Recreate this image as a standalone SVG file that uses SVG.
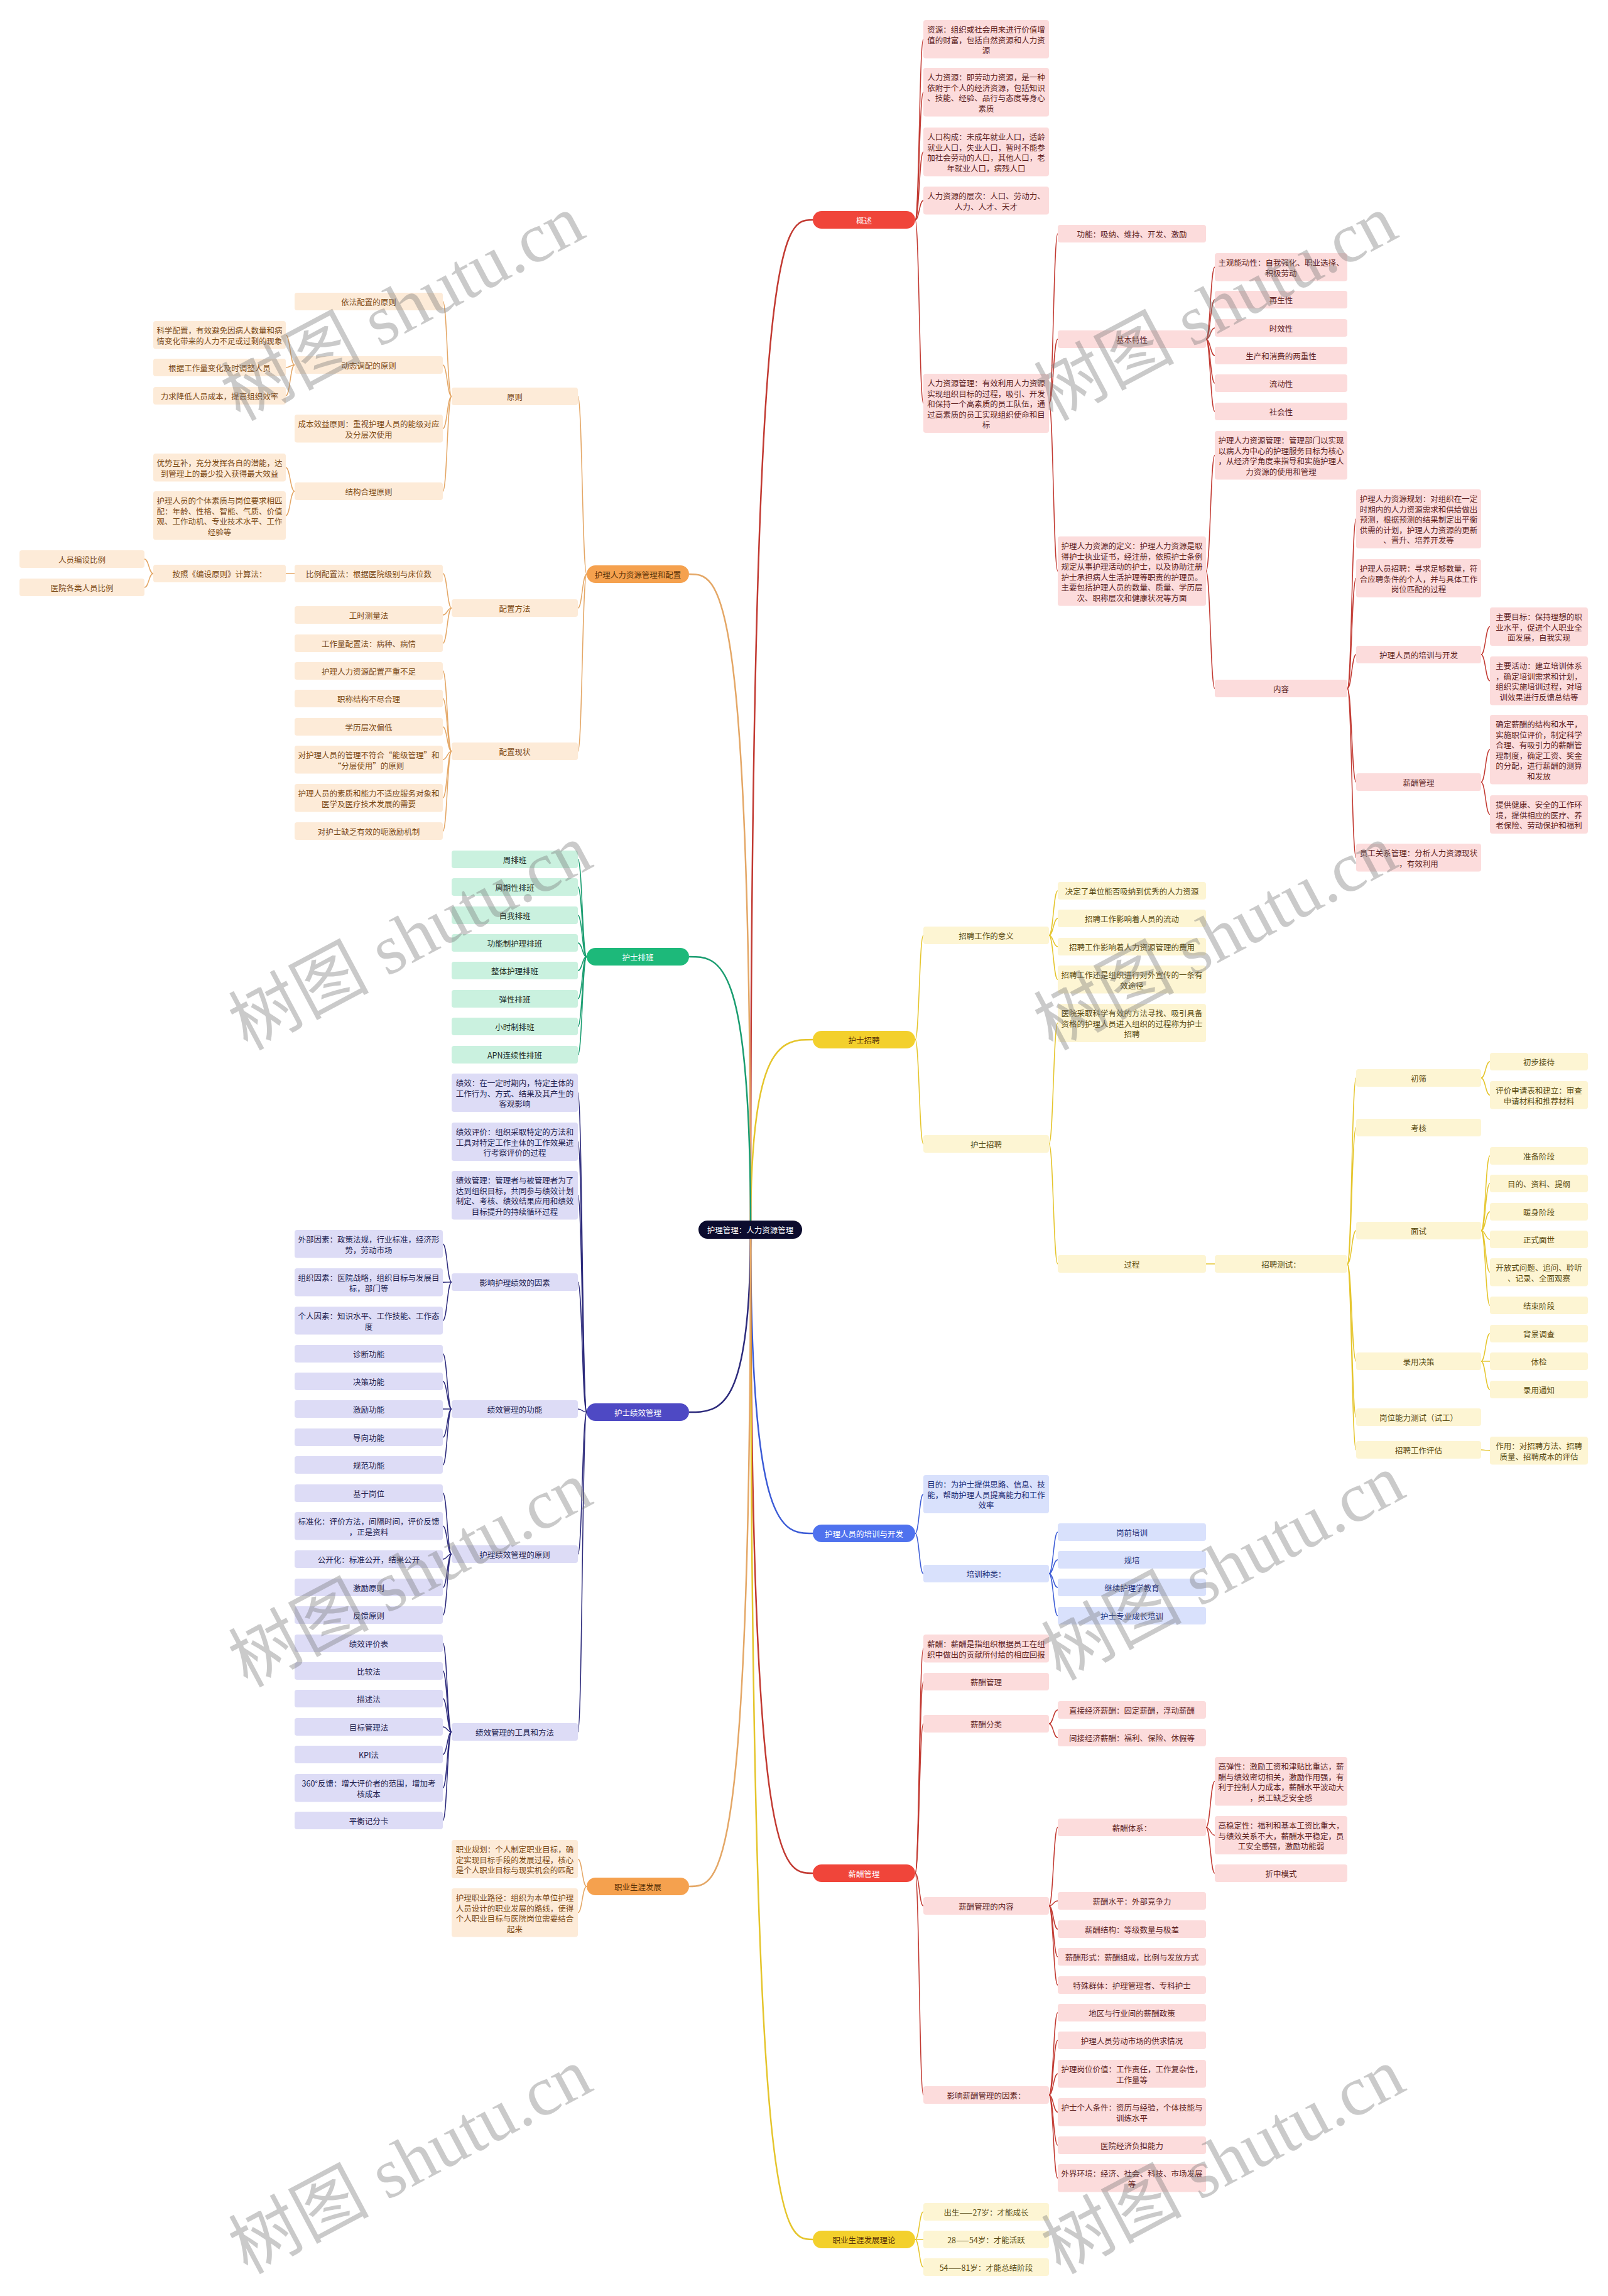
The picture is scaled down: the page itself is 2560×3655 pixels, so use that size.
<svg xmlns="http://www.w3.org/2000/svg" width="2560" height="3655" viewBox="0 0 2560 3655">
<style>
text{font-family:"Noto Sans CJK SC","Noto Sans",sans-serif;font-size:12.5px;text-anchor:middle;dominant-baseline:central}
.red rect{fill:#fcdcdc}.red text{fill:#5e1f1f}
.org rect{fill:#fdebd8}.org text{fill:#7b4a17}
.grn rect{fill:#caf1df}.grn text{fill:#1c2b24}
.pur rect{fill:#dddcf6}.pur text{fill:#232350}
.yel rect{fill:#fdf5d3}.yel text{fill:#5a4b12}
.blu rect{fill:#d9e1fc}.blu text{fill:#1d2d75}
.pill text{fill:#fff}
.pill.dk text{fill:#5a3208}
#edges path{fill:none;stroke-width:1.5}
#edges .root{stroke-width:2.5}
.e-red{stroke:#c23a32}.e-org{stroke:#e4a766}.e-grn{stroke:#1a9d70}.e-pur{stroke:#2d2b7c}.e-yel{stroke:#e5c52c}.e-blu{stroke:#3b5bd6}
.wm text{font-family:"Liberation Serif","Noto Sans CJK SC",serif;font-size:112px;fill:#777;opacity:0.38}
</style>
<rect width="2560" height="3655" fill="#ffffff"/>
<g id="edges">
<path class="root e-red" d="M1195 1957 C1195 350 1245 350 1294 350"/>
<path class="root e-yel" d="M1195 1957 C1195 1655 1245 1655 1294 1655"/>
<path class="root e-blu" d="M1195 1957 C1195 2441 1245 2441 1294 2441"/>
<path class="root e-red" d="M1195 1957 C1195 2982 1245 2982 1294 2982"/>
<path class="root e-yel" d="M1195 1957 C1195 3565 1245 3565 1294 3565"/>
<path class="root e-org" d="M1195 1957 C1195 914 1146 914 1097 914"/>
<path class="root e-grn" d="M1195 1957 C1195 1523 1146 1523 1097 1523"/>
<path class="root e-pur" d="M1195 1957 C1195 2248 1146 2248 1097 2248"/>
<path class="root e-org" d="M1195 1957 C1195 3003 1146 3003 1097 3003"/>
<g class="e-red">
<path d="M1457 350 C1463.5 350 1463.5 62.5 1470 62.5"/>
<path d="M1457 350 C1463.5 350 1463.5 146.75 1470 146.75"/>
<path d="M1457 350 C1463.5 350 1463.5 241.75 1470 241.75"/>
<path d="M1457 350 C1463.5 350 1463.5 319.25 1470 319.25"/>
<path d="M1457 350 C1463.5 350 1463.5 642 1470 642"/>
<path d="M1670 642 C1677 642 1677 372 1684 372"/>
<path d="M1670 642 C1677 642 1677 540 1684 540"/>
<path d="M1670 642 C1677 642 1677 909.25 1684 909.25"/>
<path d="M1920 540 C1927 540 1927 425.25 1934 425.25"/>
<path d="M1920 540 C1927 540 1927 477 1934 477"/>
<path d="M1920 540 C1927 540 1927 522 1934 522"/>
<path d="M1920 540 C1927 540 1927 566 1934 566"/>
<path d="M1920 540 C1927 540 1927 610 1934 610"/>
<path d="M1920 540 C1927 540 1927 655 1934 655"/>
<path d="M1920 909.25 C1927 909.25 1927 724.75 1934 724.75"/>
<path d="M1920 909.25 C1927 909.25 1927 1096 1934 1096"/>
<path d="M2145 1096 C2152 1096 2152 826 2159 826"/>
<path d="M2145 1096 C2152 1096 2152 920.5 2159 920.5"/>
<path d="M2145 1096 C2152 1096 2152 1042 2159 1042"/>
<path d="M2145 1096 C2152 1096 2152 1245 2159 1245"/>
<path d="M2145 1096 C2152 1096 2152 1365.25 2159 1365.25"/>
<path d="M2358 1042 C2365 1042 2365 997.5 2372 997.5"/>
<path d="M2358 1042 C2365 1042 2365 1083.75 2372 1083.75"/>
<path d="M2358 1245 C2365 1245 2365 1193.25 2372 1193.25"/>
<path d="M2358 1245 C2365 1245 2365 1296.5 2372 1296.5"/>
<path d="M1457 2982 C1463.5 2982 1463.5 2624.25 1470 2624.25"/>
<path d="M1457 2982 C1463.5 2982 1463.5 2677 1470 2677"/>
<path d="M1457 2982 C1463.5 2982 1463.5 2744 1470 2744"/>
<path d="M1457 2982 C1463.5 2982 1463.5 3034 1470 3034"/>
<path d="M1457 2982 C1463.5 2982 1463.5 3335 1470 3335"/>
<path d="M1670 2744 C1677 2744 1677 2722 1684 2722"/>
<path d="M1670 2744 C1677 2744 1677 2766 1684 2766"/>
<path d="M1670 3034 C1677 3034 1677 2909 1684 2909"/>
<path d="M1670 3034 C1677 3034 1677 3026 1684 3026"/>
<path d="M1670 3034 C1677 3034 1677 3071 1684 3071"/>
<path d="M1670 3034 C1677 3034 1677 3115 1684 3115"/>
<path d="M1670 3034 C1677 3034 1677 3160 1684 3160"/>
<path d="M1920 2909 C1927 2909 1927 2835.75 1934 2835.75"/>
<path d="M1920 2909 C1927 2909 1927 2921.5 1934 2921.5"/>
<path d="M1920 2909 C1927 2909 1927 2982 1934 2982"/>
<path d="M1670 3335 C1677 3335 1677 3204 1684 3204"/>
<path d="M1670 3335 C1677 3335 1677 3248 1684 3248"/>
<path d="M1670 3335 C1677 3335 1677 3301.25 1684 3301.25"/>
<path d="M1670 3335 C1677 3335 1677 3362.25 1684 3362.25"/>
<path d="M1670 3335 C1677 3335 1677 3415 1684 3415"/>
<path d="M1670 3335 C1677 3335 1677 3467.25 1684 3467.25"/>
</g>
<g class="e-org">
<path d="M934 914 C927 914 927 631 920 631"/>
<path d="M934 914 C927 914 927 968 920 968"/>
<path d="M934 914 C927 914 927 1196 920 1196"/>
<path d="M719 631 C712 631 712 480 705 480"/>
<path d="M719 631 C712 631 712 581 705 581"/>
<path d="M719 631 C712 631 712 682.25 705 682.25"/>
<path d="M719 631 C712 631 712 782 705 782"/>
<path d="M469 581 C462 581 462 533.25 455 533.25"/>
<path d="M469 581 C462 581 462 585 455 585"/>
<path d="M469 581 C462 581 462 630 455 630"/>
<path d="M469 782 C462 782 462 744.25 455 744.25"/>
<path d="M469 782 C462 782 462 820.75 455 820.75"/>
<path d="M719 968 C712 968 712 913 705 913"/>
<path d="M719 968 C712 968 712 979 705 979"/>
<path d="M719 968 C712 968 712 1024 705 1024"/>
<path d="M469 913 L455 913"/>
<path d="M244 913 C237 913 237 890 230 890"/>
<path d="M244 913 C237 913 237 935 230 935"/>
<path d="M719 1196 C712 1196 712 1068 705 1068"/>
<path d="M719 1196 C712 1196 712 1112 705 1112"/>
<path d="M719 1196 C712 1196 712 1157 705 1157"/>
<path d="M719 1196 C712 1196 712 1209.25 705 1209.25"/>
<path d="M719 1196 C712 1196 712 1270.25 705 1270.25"/>
<path d="M719 1196 C712 1196 712 1323 705 1323"/>
<path d="M934 3003 C927 3003 927 2959.5 920 2959.5"/>
<path d="M934 3003 C927 3003 927 3044.75 920 3044.75"/>
</g>
<g class="e-grn">
<path d="M934 1523 C927 1523 927 1368 920 1368"/>
<path d="M934 1523 C927 1523 927 1412 920 1412"/>
<path d="M934 1523 C927 1523 927 1457 920 1457"/>
<path d="M934 1523 C927 1523 927 1501 920 1501"/>
<path d="M934 1523 C927 1523 927 1545 920 1545"/>
<path d="M934 1523 C927 1523 927 1590 920 1590"/>
<path d="M934 1523 C927 1523 927 1634 920 1634"/>
<path d="M934 1523 C927 1523 927 1679 920 1679"/>
</g>
<g class="e-pur">
<path d="M934 2248 C927 2248 927 1739.5 920 1739.5"/>
<path d="M934 2248 C927 2248 927 1817.5 920 1817.5"/>
<path d="M934 2248 C927 2248 927 1902.75 920 1902.75"/>
<path d="M934 2248 C927 2248 927 2041 920 2041"/>
<path d="M934 2248 C927 2248 927 2243 920 2243"/>
<path d="M934 2248 C927 2248 927 2474 920 2474"/>
<path d="M934 2248 C927 2248 927 2757 920 2757"/>
<path d="M719 2041 C712 2041 712 1980.25 705 1980.25"/>
<path d="M719 2041 C712 2041 712 2041.25 705 2041.25"/>
<path d="M719 2041 C712 2041 712 2102.25 705 2102.25"/>
<path d="M719 2243 C712 2243 712 2155 705 2155"/>
<path d="M719 2243 C712 2243 712 2199 705 2199"/>
<path d="M719 2243 C712 2243 712 2243 705 2243"/>
<path d="M719 2243 C712 2243 712 2288 705 2288"/>
<path d="M719 2243 C712 2243 712 2332 705 2332"/>
<path d="M719 2474 C712 2474 712 2377 705 2377"/>
<path d="M719 2474 C712 2474 712 2429.25 705 2429.25"/>
<path d="M719 2474 C712 2474 712 2482 705 2482"/>
<path d="M719 2474 C712 2474 712 2527 705 2527"/>
<path d="M719 2474 C712 2474 712 2571 705 2571"/>
<path d="M719 2757 C712 2757 712 2616 705 2616"/>
<path d="M719 2757 C712 2757 712 2660 705 2660"/>
<path d="M719 2757 C712 2757 712 2704 705 2704"/>
<path d="M719 2757 C712 2757 712 2749 705 2749"/>
<path d="M719 2757 C712 2757 712 2793 705 2793"/>
<path d="M719 2757 C712 2757 712 2846.25 705 2846.25"/>
<path d="M719 2757 C712 2757 712 2898 705 2898"/>
</g>
<g class="e-yel">
<path d="M1457 1655 C1463.5 1655 1463.5 1489 1470 1489"/>
<path d="M1457 1655 C1463.5 1655 1463.5 1821 1470 1821"/>
<path d="M1670 1489 C1677 1489 1677 1418 1684 1418"/>
<path d="M1670 1489 C1677 1489 1677 1462 1684 1462"/>
<path d="M1670 1489 C1677 1489 1677 1507 1684 1507"/>
<path d="M1670 1489 C1677 1489 1677 1559.25 1684 1559.25"/>
<path d="M1670 1821 C1677 1821 1677 1628.5 1684 1628.5"/>
<path d="M1670 1821 C1677 1821 1677 2012 1684 2012"/>
<path d="M1920 2012 L1934 2012"/>
<path d="M2145 2012 C2152 2012 2152 1716 2159 1716"/>
<path d="M2145 2012 C2152 2012 2152 1795 2159 1795"/>
<path d="M2145 2012 C2152 2012 2152 1959 2159 1959"/>
<path d="M2145 2012 C2152 2012 2152 2167 2159 2167"/>
<path d="M2145 2012 C2152 2012 2152 2256 2159 2256"/>
<path d="M2145 2012 C2152 2012 2152 2308 2159 2308"/>
<path d="M2358 1716 C2365 1716 2365 1690 2372 1690"/>
<path d="M2358 1716 C2365 1716 2365 1743.25 2372 1743.25"/>
<path d="M2358 1959 C2365 1959 2365 1840 2372 1840"/>
<path d="M2358 1959 C2365 1959 2365 1884 2372 1884"/>
<path d="M2358 1959 C2365 1959 2365 1929 2372 1929"/>
<path d="M2358 1959 C2365 1959 2365 1973 2372 1973"/>
<path d="M2358 1959 C2365 1959 2365 2025.25 2372 2025.25"/>
<path d="M2358 1959 C2365 1959 2365 2078 2372 2078"/>
<path d="M2358 2167 C2365 2167 2365 2123 2372 2123"/>
<path d="M2358 2167 C2365 2167 2365 2167 2372 2167"/>
<path d="M2358 2167 C2365 2167 2365 2212 2372 2212"/>
<path d="M2358 2308 C2365 2308 2365 2309.25 2372 2309.25"/>
<path d="M1457 3565 C1463.5 3565 1463.5 3521 1470 3521"/>
<path d="M1457 3565 C1463.5 3565 1463.5 3565 1470 3565"/>
<path d="M1457 3565 C1463.5 3565 1463.5 3609 1470 3609"/>
</g>
<g class="e-blu">
<path d="M1457 2441 C1463.5 2441 1463.5 2378.5 1470 2378.5"/>
<path d="M1457 2441 C1463.5 2441 1463.5 2505 1470 2505"/>
<path d="M1670 2505 C1677 2505 1677 2439 1684 2439"/>
<path d="M1670 2505 C1677 2505 1677 2483 1684 2483"/>
<path d="M1670 2505 C1677 2505 1677 2527 1684 2527"/>
<path d="M1670 2505 C1677 2505 1677 2572 1684 2572"/>
</g>
</g>

<g id="root"><rect x="1112" y="1943" width="165" height="29" rx="14.5" fill="#0c0c2e"/><text x="1194.5" y="1957.5" fill="#ffffff">护理管理：人力资源管理</text></g>

<g id="p-gaishu" class="pill"><rect x="1294" y="336" width="163" height="28" rx="14" fill="#f0453a"/><text x="1375.5" y="350">概述</text></g>
<g id="p-zhaopin" class="pill dk"><rect x="1294" y="1641" width="163" height="28" rx="14" fill="#f3d02c"/><text x="1375.5" y="1655">护士招聘</text></g>
<g id="p-peixun" class="pill"><rect x="1294" y="2427" width="163" height="28" rx="14" fill="#4f72ee"/><text x="1375.5" y="2441">护理人员的培训与开发</text></g>
<g id="p-xinchou" class="pill"><rect x="1294" y="2968" width="163" height="28" rx="14" fill="#f0453a"/><text x="1375.5" y="2982">薪酬管理</text></g>
<g id="p-lilun" class="pill dk"><rect x="1294" y="3551" width="163" height="28" rx="14" fill="#f3d02c"/><text x="1375.5" y="3565">职业生涯发展理论</text></g>
<g id="p-peizhi" class="pill dk"><rect x="934" y="900" width="163" height="28" rx="14" fill="#f5a14e"/><text x="1015.5" y="914">护理人力资源管理和配置</text></g>
<g id="p-paiban" class="pill"><rect x="934" y="1509" width="163" height="28" rx="14" fill="#1db97a"/><text x="1015.5" y="1523">护士排班</text></g>
<g id="p-jixiao" class="pill"><rect x="934" y="2234" width="163" height="28" rx="14" fill="#4e49c4"/><text x="1015.5" y="2248">护士绩效管理</text></g>
<g id="p-zhiye" class="pill dk"><rect x="934" y="2989" width="163" height="28" rx="14" fill="#f5a14e"/><text x="1015.5" y="3003">职业生涯发展</text></g>

<g id="n-r1" class="red"><rect x="1470" y="32" width="200" height="61" rx="4"/><text><tspan x="1570" y="46">资源：组织或社会用来进行价值增</tspan><tspan x="1570" y="62.5">值的财富，包括自然资源和人力资</tspan><tspan x="1570" y="79">源</tspan></text></g>
<g id="n-r2" class="red"><rect x="1470" y="108" width="200" height="77.5" rx="4"/><text><tspan x="1570" y="122">人力资源：即劳动力资源，是一种</tspan><tspan x="1570" y="138.5">依附于个人的经济资源，包括知识</tspan><tspan x="1570" y="155">、技能、经验、品行与态度等身心</tspan><tspan x="1570" y="171.5">素质</tspan></text></g>
<g id="n-r3" class="red"><rect x="1470" y="203" width="200" height="77.5" rx="4"/><text><tspan x="1570" y="217">人口构成：未成年就业人口，适龄</tspan><tspan x="1570" y="233.5">就业人口，失业人口，暂时不能参</tspan><tspan x="1570" y="250">加社会劳动的人口，其他人口，老</tspan><tspan x="1570" y="266.5">年就业人口，病残人口</tspan></text></g>
<g id="n-r4" class="red"><rect x="1470" y="297" width="200" height="44.5" rx="4"/><text><tspan x="1570" y="311">人力资源的层次：人口、劳动力、</tspan><tspan x="1570" y="327.5">人力、人才、天才</tspan></text></g>
<g id="n-r5" class="red"><rect x="1470" y="595" width="200" height="94" rx="4"/><text><tspan x="1570" y="609">人力资源管理：有效利用人力资源</tspan><tspan x="1570" y="625.5">实现组织目标的过程，吸引、开发</tspan><tspan x="1570" y="642">和保持一个高素质的员工队伍，通</tspan><tspan x="1570" y="658.5">过高素质的员工实现组织使命和目</tspan><tspan x="1570" y="675">标</tspan></text></g>
<g id="n-r6" class="red"><rect x="1684" y="358" width="236" height="28" rx="4"/><text x="1802" y="372">功能：吸纳、维持、开发、激励</text></g>
<g id="n-r7" class="red"><rect x="1684" y="526" width="236" height="28" rx="4"/><text x="1802" y="540">基本特性</text></g>
<g id="n-r8" class="red"><rect x="1684" y="854" width="236" height="110.5" rx="4"/><text><tspan x="1802" y="868">护理人力资源的定义：护理人力资源是取</tspan><tspan x="1802" y="884.5">得护士执业证书，经注册，依照护士条例</tspan><tspan x="1802" y="901">规定从事护理活动的护士，以及协助注册</tspan><tspan x="1802" y="917.5">护士承担病人生活护理等职责的护理员。</tspan><tspan x="1802" y="934">主要包括护理人员的数量、质量、学历层</tspan><tspan x="1802" y="950.5">次、职称层次和健康状况等方面</tspan></text></g>
<g id="n-r9" class="red"><rect x="1934" y="403" width="211" height="44.5" rx="4"/><text><tspan x="2039.5" y="417">主观能动性：自我强化、职业选择、</tspan><tspan x="2039.5" y="433.5">积极劳动</tspan></text></g>
<g id="n-r10" class="red"><rect x="1934" y="463" width="211" height="28" rx="4"/><text x="2039.5" y="477">再生性</text></g>
<g id="n-r11" class="red"><rect x="1934" y="508" width="211" height="28" rx="4"/><text x="2039.5" y="522">时效性</text></g>
<g id="n-r12" class="red"><rect x="1934" y="552" width="211" height="28" rx="4"/><text x="2039.5" y="566">生产和消费的两重性</text></g>
<g id="n-r13" class="red"><rect x="1934" y="596" width="211" height="28" rx="4"/><text x="2039.5" y="610">流动性</text></g>
<g id="n-r14" class="red"><rect x="1934" y="641" width="211" height="28" rx="4"/><text x="2039.5" y="655">社会性</text></g>
<g id="n-r15" class="red"><rect x="1934" y="686" width="211" height="77.5" rx="4"/><text><tspan x="2039.5" y="700">护理人力资源管理：管理部门以实现</tspan><tspan x="2039.5" y="716.5">以病人为中心的护理服务目标为核心</tspan><tspan x="2039.5" y="733">，从经济学角度来指导和实施护理人</tspan><tspan x="2039.5" y="749.5">力资源的使用和管理</tspan></text></g>
<g id="n-r16" class="red"><rect x="1934" y="1082" width="211" height="28" rx="4"/><text x="2039.5" y="1096">内容</text></g>
<g id="n-r17" class="red"><rect x="2159" y="779" width="199" height="94" rx="4"/><text><tspan x="2258.5" y="793">护理人力资源规划：对组织在一定</tspan><tspan x="2258.5" y="809.5">时期内的人力资源需求和供给做出</tspan><tspan x="2258.5" y="826">预测，根据预测的结果制定出平衡</tspan><tspan x="2258.5" y="842.5">供需的计划，护理人力资源的更新</tspan><tspan x="2258.5" y="859">、晋升、培养开发等</tspan></text></g>
<g id="n-r18" class="red"><rect x="2159" y="890" width="199" height="61" rx="4"/><text><tspan x="2258.5" y="904">护理人员招聘：寻求足够数量，符</tspan><tspan x="2258.5" y="920.5">合应聘条件的个人，并与具体工作</tspan><tspan x="2258.5" y="937">岗位匹配的过程</tspan></text></g>
<g id="n-r19" class="red"><rect x="2159" y="1028" width="199" height="28" rx="4"/><text x="2258.5" y="1042">护理人员的培训与开发</text></g>
<g id="n-r20" class="red"><rect x="2159" y="1231" width="199" height="28" rx="4"/><text x="2258.5" y="1245">薪酬管理</text></g>
<g id="n-r21" class="red"><rect x="2159" y="1343" width="199" height="44.5" rx="4"/><text><tspan x="2258.5" y="1357">员工关系管理：分析人力资源现状</tspan><tspan x="2258.5" y="1373.5">，有效利用</tspan></text></g>
<g id="n-r22" class="red"><rect x="2372" y="967" width="156" height="61" rx="4"/><text><tspan x="2450" y="981">主要目标：保持理想的职</tspan><tspan x="2450" y="997.5">业水平，促进个人职业全</tspan><tspan x="2450" y="1014">面发展，自我实现</tspan></text></g>
<g id="n-r23" class="red"><rect x="2372" y="1045" width="156" height="77.5" rx="4"/><text><tspan x="2450" y="1059">主要活动：建立培训体系</tspan><tspan x="2450" y="1075.5">，确定培训需求和计划，</tspan><tspan x="2450" y="1092">组织实施培训过程，对培</tspan><tspan x="2450" y="1108.5">训效果进行反馈总结等</tspan></text></g>
<g id="n-r24" class="red"><rect x="2372" y="1138" width="156" height="110.5" rx="4"/><text><tspan x="2450" y="1152">确定薪酬的结构和水平，</tspan><tspan x="2450" y="1168.5">实施职位评价，制定科学</tspan><tspan x="2450" y="1185">合理、有吸引力的薪酬管</tspan><tspan x="2450" y="1201.5">理制度，确定工资、奖金</tspan><tspan x="2450" y="1218">的分配，进行薪酬的测算</tspan><tspan x="2450" y="1234.5">和发放</tspan></text></g>
<g id="n-r25" class="red"><rect x="2372" y="1266" width="156" height="61" rx="4"/><text><tspan x="2450" y="1280">提供健康、安全的工作环</tspan><tspan x="2450" y="1296.5">境，提供相应的医疗、养</tspan><tspan x="2450" y="1313">老保险、劳动保护和福利</tspan></text></g>

<g id="n-l1" class="org"><rect x="719" y="617" width="201" height="28" rx="4"/><text x="819.5" y="631">原则</text></g>
<g id="n-l2" class="org"><rect x="469" y="466" width="236" height="28" rx="4"/><text x="587" y="480">依法配置的原则</text></g>
<g id="n-l3" class="org"><rect x="469" y="567" width="236" height="28" rx="4"/><text x="587" y="581">动态调配的原则</text></g>
<g id="n-l4" class="org"><rect x="469" y="660" width="236" height="44.5" rx="4"/><text><tspan x="587" y="674">成本效益原则：重视护理人员的能级对应</tspan><tspan x="587" y="690.5">及分层次使用</tspan></text></g>
<g id="n-l5" class="org"><rect x="469" y="768" width="236" height="28" rx="4"/><text x="587" y="782">结构合理原则</text></g>
<g id="n-l6" class="org"><rect x="244" y="511" width="211" height="44.5" rx="4"/><text><tspan x="349.5" y="525">科学配置，有效避免因病人数量和病</tspan><tspan x="349.5" y="541.5">情变化带来的人力不足或过剩的现象</tspan></text></g>
<g id="n-l7" class="org"><rect x="244" y="571" width="211" height="28" rx="4"/><text x="349.5" y="585">根据工作量变化及时调整人员</text></g>
<g id="n-l8" class="org"><rect x="244" y="616" width="211" height="28" rx="4"/><text x="349.5" y="630">力求降低人员成本，提高组织效率</text></g>
<g id="n-l9" class="org"><rect x="244" y="722" width="211" height="44.5" rx="4"/><text><tspan x="349.5" y="736">优势互补，充分发挥各自的潜能，达</tspan><tspan x="349.5" y="752.5">到管理上的最少投入获得最大效益</tspan></text></g>
<g id="n-l10" class="org"><rect x="244" y="782" width="211" height="77.5" rx="4"/><text><tspan x="349.5" y="796">护理人员的个体素质与岗位要求相匹</tspan><tspan x="349.5" y="812.5">配：年龄、性格、智能、气质、价值</tspan><tspan x="349.5" y="829">观、工作动机、专业技术水平、工作</tspan><tspan x="349.5" y="845.5">经验等</tspan></text></g>
<g id="n-l11" class="org"><rect x="31" y="876" width="199" height="28" rx="4"/><text x="130.5" y="890">人员编设比例</text></g>
<g id="n-l12" class="org"><rect x="31" y="921" width="199" height="28" rx="4"/><text x="130.5" y="935">医院各类人员比例</text></g>
<g id="n-l13" class="org"><rect x="244" y="899" width="211" height="28" rx="4"/><text x="349.5" y="913">按照《编设原则》计算法：</text></g>
<g id="n-l14" class="org"><rect x="469" y="899" width="236" height="28" rx="4"/><text x="587" y="913">比例配置法：根据医院级别与床位数</text></g>
<g id="n-l15" class="org"><rect x="719" y="954" width="201" height="28" rx="4"/><text x="819.5" y="968">配置方法</text></g>
<g id="n-l16" class="org"><rect x="469" y="965" width="236" height="28" rx="4"/><text x="587" y="979">工时测量法</text></g>
<g id="n-l17" class="org"><rect x="469" y="1010" width="236" height="28" rx="4"/><text x="587" y="1024">工作量配置法：病种、病情</text></g>
<g id="n-l18" class="org"><rect x="469" y="1054" width="236" height="28" rx="4"/><text x="587" y="1068">护理人力资源配置严重不足</text></g>
<g id="n-l19" class="org"><rect x="469" y="1098" width="236" height="28" rx="4"/><text x="587" y="1112">职称结构不尽合理</text></g>
<g id="n-l20" class="org"><rect x="469" y="1143" width="236" height="28" rx="4"/><text x="587" y="1157">学历层次偏低</text></g>
<g id="n-l21" class="org"><rect x="469" y="1187" width="236" height="44.5" rx="4"/><text><tspan x="587" y="1201">对护理人员的管理不符合“能级管理”和</tspan><tspan x="587" y="1217.5">“分层使用”的原则</tspan></text></g>
<g id="n-l22" class="org"><rect x="469" y="1248" width="236" height="44.5" rx="4"/><text><tspan x="587" y="1262">护理人员的素质和能力不适应服务对象和</tspan><tspan x="587" y="1278.5">医学及医疗技术发展的需要</tspan></text></g>
<g id="n-l23" class="org"><rect x="469" y="1309" width="236" height="28" rx="4"/><text x="587" y="1323">对护士缺乏有效的呃激励机制</text></g>
<g id="n-l24" class="org"><rect x="719" y="1182" width="201" height="28" rx="4"/><text x="819.5" y="1196">配置现状</text></g>

<g id="n-g1" class="grn"><rect x="719" y="1354" width="201" height="28" rx="4"/><text x="819.5" y="1368">周排班</text></g>
<g id="n-g2" class="grn"><rect x="719" y="1398" width="201" height="28" rx="4"/><text x="819.5" y="1412">周期性排班</text></g>
<g id="n-g3" class="grn"><rect x="719" y="1443" width="201" height="28" rx="4"/><text x="819.5" y="1457">自我排班</text></g>
<g id="n-g4" class="grn"><rect x="719" y="1487" width="201" height="28" rx="4"/><text x="819.5" y="1501">功能制护理排班</text></g>
<g id="n-g5" class="grn"><rect x="719" y="1531" width="201" height="28" rx="4"/><text x="819.5" y="1545">整体护理排班</text></g>
<g id="n-g6" class="grn"><rect x="719" y="1576" width="201" height="28" rx="4"/><text x="819.5" y="1590">弹性排班</text></g>
<g id="n-g7" class="grn"><rect x="719" y="1620" width="201" height="28" rx="4"/><text x="819.5" y="1634">小时制排班</text></g>
<g id="n-g8" class="grn"><rect x="719" y="1665" width="201" height="28" rx="4"/><text x="819.5" y="1679">APN连续性排班</text></g>

<g id="n-p1" class="pur"><rect x="719" y="1709" width="201" height="61" rx="4"/><text><tspan x="819.5" y="1723">绩效：在一定时期内，特定主体的</tspan><tspan x="819.5" y="1739.5">工作行为、方式、结果及其产生的</tspan><tspan x="819.5" y="1756">客观影响</tspan></text></g>
<g id="n-p2" class="pur"><rect x="719" y="1787" width="201" height="61" rx="4"/><text><tspan x="819.5" y="1801">绩效评价：组织采取特定的方法和</tspan><tspan x="819.5" y="1817.5">工具对特定工作主体的工作效果进</tspan><tspan x="819.5" y="1834">行考察评价的过程</tspan></text></g>
<g id="n-p3" class="pur"><rect x="719" y="1864" width="201" height="77.5" rx="4"/><text><tspan x="819.5" y="1878">绩效管理：管理者与被管理者为了</tspan><tspan x="819.5" y="1894.5">达到组织目标，共同参与绩效计划</tspan><tspan x="819.5" y="1911">制定、考核、绩效结果应用和绩效</tspan><tspan x="819.5" y="1927.5">目标提升的持续循环过程</tspan></text></g>
<g id="n-p4" class="pur"><rect x="719" y="2027" width="201" height="28" rx="4"/><text x="819.5" y="2041">影响护理绩效的因素</text></g>
<g id="n-p5" class="pur"><rect x="719" y="2229" width="201" height="28" rx="4"/><text x="819.5" y="2243">绩效管理的功能</text></g>
<g id="n-p6" class="pur"><rect x="719" y="2460" width="201" height="28" rx="4"/><text x="819.5" y="2474">护理绩效管理的原则</text></g>
<g id="n-p7" class="pur"><rect x="719" y="2743" width="201" height="28" rx="4"/><text x="819.5" y="2757">绩效管理的工具和方法</text></g>
<g id="n-p8" class="pur"><rect x="469" y="1958" width="236" height="44.5" rx="4"/><text><tspan x="587" y="1972">外部因素：政策法规，行业标准，经济形</tspan><tspan x="587" y="1988.5">势，劳动市场</tspan></text></g>
<g id="n-p9" class="pur"><rect x="469" y="2019" width="236" height="44.5" rx="4"/><text><tspan x="587" y="2033">组织因素：医院战略，组织目标与发展目</tspan><tspan x="587" y="2049.5">标，部门等</tspan></text></g>
<g id="n-p10" class="pur"><rect x="469" y="2080" width="236" height="44.5" rx="4"/><text><tspan x="587" y="2094">个人因素：知识水平、工作技能、工作态</tspan><tspan x="587" y="2110.5">度</tspan></text></g>
<g id="n-p11" class="pur"><rect x="469" y="2141" width="236" height="28" rx="4"/><text x="587" y="2155">诊断功能</text></g>
<g id="n-p12" class="pur"><rect x="469" y="2185" width="236" height="28" rx="4"/><text x="587" y="2199">决策功能</text></g>
<g id="n-p13" class="pur"><rect x="469" y="2229" width="236" height="28" rx="4"/><text x="587" y="2243">激励功能</text></g>
<g id="n-p14" class="pur"><rect x="469" y="2274" width="236" height="28" rx="4"/><text x="587" y="2288">导向功能</text></g>
<g id="n-p15" class="pur"><rect x="469" y="2318" width="236" height="28" rx="4"/><text x="587" y="2332">规范功能</text></g>
<g id="n-p16" class="pur"><rect x="469" y="2363" width="236" height="28" rx="4"/><text x="587" y="2377">基于岗位</text></g>
<g id="n-p17" class="pur"><rect x="469" y="2407" width="236" height="44.5" rx="4"/><text><tspan x="587" y="2421">标准化：评价方法，间隔时间，评价反馈</tspan><tspan x="587" y="2437.5">，正是资料</tspan></text></g>
<g id="n-p18" class="pur"><rect x="469" y="2468" width="236" height="28" rx="4"/><text x="587" y="2482">公开化：标准公开，结果公开</text></g>
<g id="n-p19" class="pur"><rect x="469" y="2513" width="236" height="28" rx="4"/><text x="587" y="2527">激励原则</text></g>
<g id="n-p20" class="pur"><rect x="469" y="2557" width="236" height="28" rx="4"/><text x="587" y="2571">反馈原则</text></g>
<g id="n-p21" class="pur"><rect x="469" y="2602" width="236" height="28" rx="4"/><text x="587" y="2616">绩效评价表</text></g>
<g id="n-p22" class="pur"><rect x="469" y="2646" width="236" height="28" rx="4"/><text x="587" y="2660">比较法</text></g>
<g id="n-p23" class="pur"><rect x="469" y="2690" width="236" height="28" rx="4"/><text x="587" y="2704">描述法</text></g>
<g id="n-p24" class="pur"><rect x="469" y="2735" width="236" height="28" rx="4"/><text x="587" y="2749">目标管理法</text></g>
<g id="n-p25" class="pur"><rect x="469" y="2779" width="236" height="28" rx="4"/><text x="587" y="2793">KPI法</text></g>
<g id="n-p26" class="pur"><rect x="469" y="2824" width="236" height="44.5" rx="4"/><text><tspan x="587" y="2838">360°反馈：增大评价者的范围，增加考</tspan><tspan x="587" y="2854.5">核成本</tspan></text></g>
<g id="n-p27" class="pur"><rect x="469" y="2884" width="236" height="28" rx="4"/><text x="587" y="2898">平衡记分卡</text></g>

<g id="n-c1" class="org"><rect x="719" y="2929" width="201" height="61" rx="4"/><text><tspan x="819.5" y="2943">职业规划：个人制定职业目标，确</tspan><tspan x="819.5" y="2959.5">定实现目标手段的发展过程，核心</tspan><tspan x="819.5" y="2976">是个人职业目标与现实机会的匹配</tspan></text></g>
<g id="n-c2" class="org"><rect x="719" y="3006" width="201" height="77.5" rx="4"/><text><tspan x="819.5" y="3020">护理职业路径：组织为本单位护理</tspan><tspan x="819.5" y="3036.5">人员设计的职业发展的路线，使得</tspan><tspan x="819.5" y="3053">个人职业目标与医院岗位需要结合</tspan><tspan x="819.5" y="3069.5">起来</tspan></text></g>

<g id="n-y1" class="yel"><rect x="1470" y="1475" width="200" height="28" rx="4"/><text x="1570" y="1489">招聘工作的意义</text></g>
<g id="n-y2" class="yel"><rect x="1470" y="1807" width="200" height="28" rx="4"/><text x="1570" y="1821">护士招聘</text></g>
<g id="n-y3" class="yel"><rect x="1684" y="1404" width="236" height="28" rx="4"/><text x="1802" y="1418">决定了单位能否吸纳到优秀的人力资源</text></g>
<g id="n-y4" class="yel"><rect x="1684" y="1448" width="236" height="28" rx="4"/><text x="1802" y="1462">招聘工作影响着人员的流动</text></g>
<g id="n-y5" class="yel"><rect x="1684" y="1493" width="236" height="28" rx="4"/><text x="1802" y="1507">招聘工作影响着人力资源管理的费用</text></g>
<g id="n-y6" class="yel"><rect x="1684" y="1537" width="236" height="44.5" rx="4"/><text><tspan x="1802" y="1551">招聘工作还是组织进行对外宣传的一条有</tspan><tspan x="1802" y="1567.5">效途径</tspan></text></g>
<g id="n-y7" class="yel"><rect x="1684" y="1598" width="236" height="61" rx="4"/><text><tspan x="1802" y="1612">医院采取科学有效的方法寻找、吸引具备</tspan><tspan x="1802" y="1628.5">资格的护理人员进入组织的过程称为护士</tspan><tspan x="1802" y="1645">招聘</tspan></text></g>
<g id="n-y8" class="yel"><rect x="1684" y="1998" width="236" height="28" rx="4"/><text x="1802" y="2012">过程</text></g>
<g id="n-y9" class="yel"><rect x="1934" y="1998" width="211" height="28" rx="4"/><text x="2039.5" y="2012">招聘测试：</text></g>
<g id="n-y10" class="yel"><rect x="2159" y="1702" width="199" height="28" rx="4"/><text x="2258.5" y="1716">初筛</text></g>
<g id="n-y11" class="yel"><rect x="2159" y="1781" width="199" height="28" rx="4"/><text x="2258.5" y="1795">考核</text></g>
<g id="n-y12" class="yel"><rect x="2159" y="1945" width="199" height="28" rx="4"/><text x="2258.5" y="1959">面试</text></g>
<g id="n-y13" class="yel"><rect x="2159" y="2153" width="199" height="28" rx="4"/><text x="2258.5" y="2167">录用决策</text></g>
<g id="n-y14" class="yel"><rect x="2159" y="2242" width="199" height="28" rx="4"/><text x="2258.5" y="2256">岗位能力测试（试工）</text></g>
<g id="n-y15" class="yel"><rect x="2159" y="2294" width="199" height="28" rx="4"/><text x="2258.5" y="2308">招聘工作评估</text></g>
<g id="n-y16" class="yel"><rect x="2372" y="1676" width="156" height="28" rx="4"/><text x="2450" y="1690">初步接待</text></g>
<g id="n-y17" class="yel"><rect x="2372" y="1721" width="156" height="44.5" rx="4"/><text><tspan x="2450" y="1735">评价申请表和建立：审查</tspan><tspan x="2450" y="1751.5">申请材料和推荐材料</tspan></text></g>
<g id="n-y18" class="yel"><rect x="2372" y="1826" width="156" height="28" rx="4"/><text x="2450" y="1840">准备阶段</text></g>
<g id="n-y19" class="yel"><rect x="2372" y="1870" width="156" height="28" rx="4"/><text x="2450" y="1884">目的、资料、提纲</text></g>
<g id="n-y20" class="yel"><rect x="2372" y="1915" width="156" height="28" rx="4"/><text x="2450" y="1929">暖身阶段</text></g>
<g id="n-y21" class="yel"><rect x="2372" y="1959" width="156" height="28" rx="4"/><text x="2450" y="1973">正式面世</text></g>
<g id="n-y22" class="yel"><rect x="2372" y="2003" width="156" height="44.5" rx="4"/><text><tspan x="2450" y="2017">开放式问题、追问、聆听</tspan><tspan x="2450" y="2033.5">、记录、全面观察</tspan></text></g>
<g id="n-y23" class="yel"><rect x="2372" y="2064" width="156" height="28" rx="4"/><text x="2450" y="2078">结束阶段</text></g>
<g id="n-y24" class="yel"><rect x="2372" y="2109" width="156" height="28" rx="4"/><text x="2450" y="2123">背景调查</text></g>
<g id="n-y25" class="yel"><rect x="2372" y="2153" width="156" height="28" rx="4"/><text x="2450" y="2167">体检</text></g>
<g id="n-y26" class="yel"><rect x="2372" y="2198" width="156" height="28" rx="4"/><text x="2450" y="2212">录用通知</text></g>
<g id="n-y27" class="yel"><rect x="2372" y="2287" width="156" height="44.5" rx="4"/><text><tspan x="2450" y="2301">作用：对招聘方法、招聘</tspan><tspan x="2450" y="2317.5">质量、招聘成本的评估</tspan></text></g>

<g id="n-b1" class="blu"><rect x="1470" y="2348" width="200" height="61" rx="4"/><text><tspan x="1570" y="2362">目的：为护士提供思路、信息、技</tspan><tspan x="1570" y="2378.5">能，帮助护理人员提高能力和工作</tspan><tspan x="1570" y="2395">效率</tspan></text></g>
<g id="n-b2" class="blu"><rect x="1470" y="2491" width="200" height="28" rx="4"/><text x="1570" y="2505">培训种类：</text></g>
<g id="n-b3" class="blu"><rect x="1684" y="2425" width="236" height="28" rx="4"/><text x="1802" y="2439">岗前培训</text></g>
<g id="n-b4" class="blu"><rect x="1684" y="2469" width="236" height="28" rx="4"/><text x="1802" y="2483">规培</text></g>
<g id="n-b5" class="blu"><rect x="1684" y="2513" width="236" height="28" rx="4"/><text x="1802" y="2527">继续护理学教育</text></g>
<g id="n-b6" class="blu"><rect x="1684" y="2558" width="236" height="28" rx="4"/><text x="1802" y="2572">护士专业成长培训</text></g>

<g id="n-s1" class="red"><rect x="1470" y="2602" width="200" height="44.5" rx="4"/><text><tspan x="1570" y="2616">薪酬：薪酬是指组织根据员工在组</tspan><tspan x="1570" y="2632.5">织中做出的贡献所付给的相应回报</tspan></text></g>
<g id="n-s2" class="red"><rect x="1470" y="2663" width="200" height="28" rx="4"/><text x="1570" y="2677">薪酬管理</text></g>
<g id="n-s3" class="red"><rect x="1470" y="2730" width="200" height="28" rx="4"/><text x="1570" y="2744">薪酬分类</text></g>
<g id="n-s4" class="red"><rect x="1684" y="2708" width="236" height="28" rx="4"/><text x="1802" y="2722">直接经济薪酬：固定薪酬，浮动薪酬</text></g>
<g id="n-s5" class="red"><rect x="1684" y="2752" width="236" height="28" rx="4"/><text x="1802" y="2766">间接经济薪酬：福利、保险、休假等</text></g>
<g id="n-s6" class="red"><rect x="1684" y="2895" width="236" height="28" rx="4"/><text x="1802" y="2909">薪酬体系：</text></g>
<g id="n-s7" class="red"><rect x="1934" y="2797" width="211" height="77.5" rx="4"/><text><tspan x="2039.5" y="2811">高弹性：激励工资和津贴比重达，薪</tspan><tspan x="2039.5" y="2827.5">酬与绩效密切相关，激励作用强，有</tspan><tspan x="2039.5" y="2844">利于控制人力成本，薪酬水平波动大</tspan><tspan x="2039.5" y="2860.5">，员工缺乏安全感</tspan></text></g>
<g id="n-s8" class="red"><rect x="1934" y="2891" width="211" height="61" rx="4"/><text><tspan x="2039.5" y="2905">高稳定性：福利和基本工资比重大，</tspan><tspan x="2039.5" y="2921.5">与绩效关系不大，薪酬水平稳定，员</tspan><tspan x="2039.5" y="2938">工安全感强，激励功能弱</tspan></text></g>
<g id="n-s9" class="red"><rect x="1934" y="2968" width="211" height="28" rx="4"/><text x="2039.5" y="2982">折中模式</text></g>
<g id="n-s10" class="red"><rect x="1470" y="3020" width="200" height="28" rx="4"/><text x="1570" y="3034">薪酬管理的内容</text></g>
<g id="n-s11" class="red"><rect x="1684" y="3012" width="236" height="28" rx="4"/><text x="1802" y="3026">薪酬水平：外部竞争力</text></g>
<g id="n-s12" class="red"><rect x="1684" y="3057" width="236" height="28" rx="4"/><text x="1802" y="3071">薪酬结构：等级数量与极差</text></g>
<g id="n-s13" class="red"><rect x="1684" y="3101" width="236" height="28" rx="4"/><text x="1802" y="3115">薪酬形式：薪酬组成，比例与发放方式</text></g>
<g id="n-s14" class="red"><rect x="1684" y="3146" width="236" height="28" rx="4"/><text x="1802" y="3160">特殊群体：护理管理者、专科护士</text></g>
<g id="n-s15" class="red"><rect x="1470" y="3321" width="200" height="28" rx="4"/><text x="1570" y="3335">影响薪酬管理的因素：</text></g>
<g id="n-s16" class="red"><rect x="1684" y="3190" width="236" height="28" rx="4"/><text x="1802" y="3204">地区与行业间的薪酬政策</text></g>
<g id="n-s17" class="red"><rect x="1684" y="3234" width="236" height="28" rx="4"/><text x="1802" y="3248">护理人员劳动市场的供求情况</text></g>
<g id="n-s18" class="red"><rect x="1684" y="3279" width="236" height="44.5" rx="4"/><text><tspan x="1802" y="3293">护理岗位价值：工作责任，工作复杂性，</tspan><tspan x="1802" y="3309.5">工作量等</tspan></text></g>
<g id="n-s19" class="red"><rect x="1684" y="3340" width="236" height="44.5" rx="4"/><text><tspan x="1802" y="3354">护士个人条件：资历与经验，个体技能与</tspan><tspan x="1802" y="3370.5">训练水平</tspan></text></g>
<g id="n-s20" class="red"><rect x="1684" y="3401" width="236" height="28" rx="4"/><text x="1802" y="3415">医院经济负担能力</text></g>
<g id="n-s21" class="red"><rect x="1684" y="3445" width="236" height="44.5" rx="4"/><text><tspan x="1802" y="3459">外界环境：经济、社会、科技、市场发展</tspan><tspan x="1802" y="3475.5">等</tspan></text></g>

<g id="n-t1" class="yel"><rect x="1470" y="3507" width="200" height="28" rx="4"/><text x="1570" y="3521">出生——27岁：才能成长</text></g>
<g id="n-t2" class="yel"><rect x="1470" y="3551" width="200" height="28" rx="4"/><text x="1570" y="3565">28——54岁：才能活跃</text></g>
<g id="n-t3" class="yel"><rect x="1470" y="3595" width="200" height="28" rx="4"/><text x="1570" y="3609">54——81岁：才能总结阶段</text></g>

<g class="wm">
<text x="641" y="490" transform="rotate(-28 641 490)">树图 shutu.cn</text>
<text x="1935" y="490" transform="rotate(-28 1935 490)">树图 shutu.cn</text>
<text x="653" y="1492" transform="rotate(-28 653 1492)">树图 shutu.cn</text>
<text x="1935" y="1492" transform="rotate(-28 1935 1492)">树图 shutu.cn</text>
<text x="653" y="2506" transform="rotate(-28 653 2506)">树图 shutu.cn</text>
<text x="1947" y="2495" transform="rotate(-28 1947 2495)">树图 shutu.cn</text>
<text x="653" y="3440" transform="rotate(-28 653 3440)">树图 shutu.cn</text>
<text x="1947" y="3440" transform="rotate(-28 1947 3440)">树图 shutu.cn</text>
</g>
</svg>
